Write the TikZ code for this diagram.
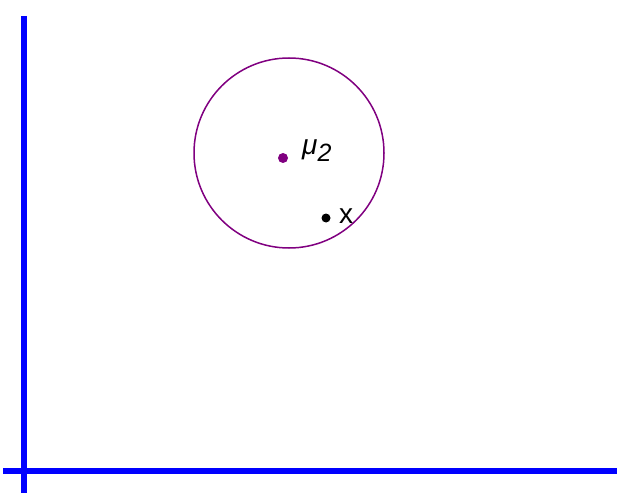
\documentclass[tikz,border=0pt]{standalone}
\usepackage{fontspec}
\setmainfont{Liberation Sans}
\definecolor{purp}{RGB}{128,0,128}
\begin{document}
\begin{tikzpicture}[x=1pt,y=-1pt,
  axis/.style={draw=blue,line width=6pt},
  dot/.style={circle,fill=#1,inner sep=0pt,minimum size=10pt},
  lbl/.style={font=\fontsize{28}{32}\selectfont,inner sep=0pt}]
\useasboundingbox (0,0) rectangle (623,497);
\coordinate (vt) at (24,16);
\coordinate (vb) at (24,493);
\coordinate (hl) at (3,471);
\coordinate (hr) at (617,471);
\draw[axis] (vt) -- (vb);
\draw[axis] (hl) -- (hr);
\node[draw=purp,line width=1.5pt,circle,minimum size=190pt,inner sep=0pt] (c) at (289,153) {};
\node[dot=purp] (mu) at (283,158) {};
\node[lbl,anchor=base west] (mul) at (302,155) {\itshape μ\raisebox{-6pt}{\fontsize{25}{28}\selectfont 2}};
\node[dot=black,minimum size=9pt] (x) at (326,218) {};
\node[lbl,anchor=base west] (xl) at (339,223) {x};
\end{tikzpicture}
\end{document}
